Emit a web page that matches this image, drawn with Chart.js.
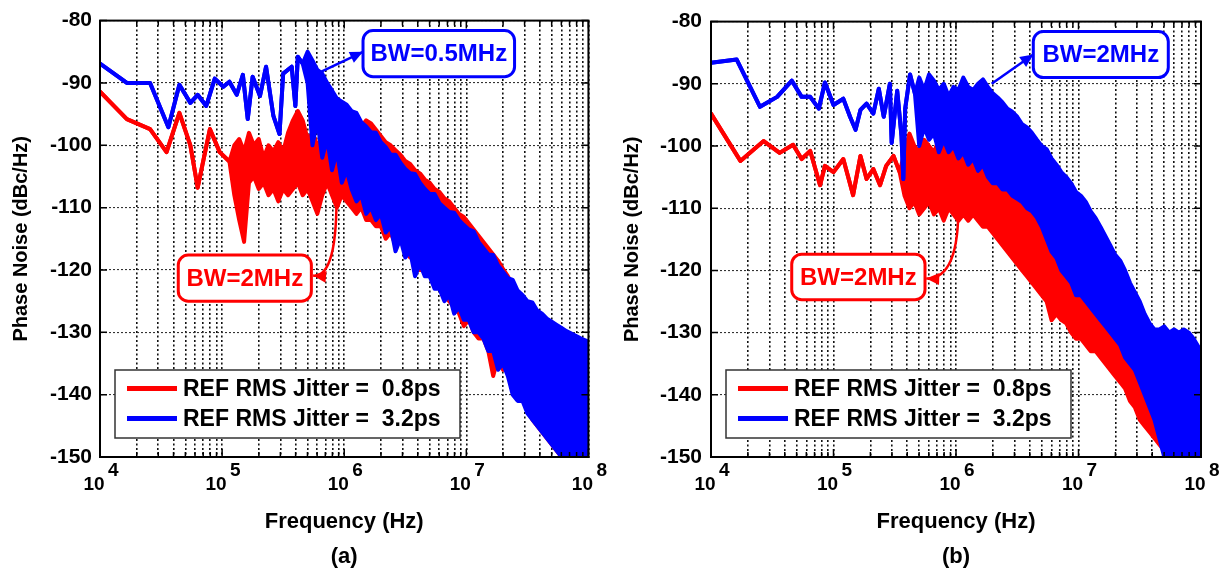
<!DOCTYPE html>
<html>
<head>
<meta charset="utf-8">
<title>Phase noise vs. frequency</title>
<script src="https://cdn.jsdelivr.net/npm/chart.js@4/dist/chart.umd.min.js"></script>
<style>
  html, body { margin: 0; padding: 0; background: #fff; }
  #wrap { position: relative; width: 1230px; height: 574px; }
  #wrap canvas { position: absolute; top: 0; }
</style>
</head>
<body>
<div id="wrap">
  <canvas id="chartA" width="615" height="574" style="left:0"></canvas>
  <canvas id="chartB" width="615" height="574" style="left:615px"></canvas>
</div>
<script>
// ---- values (frequency as log10(Hz), noise in dBc/Hz) ----
const decadeExps = [4, 5, 6, 7, 8];
const minorSteps = [2, 3, 4, 5, 6, 7, 8, 9];
const yTickValues = [-150, -140, -130, -120, -110, -100, -90, -80];
const legendLabels = ['REF RMS Jitter =  0.8ps', 'REF RMS Jitter =  3.2ps'];
const captions = ['(a)', '(b)'];

// panel (a) - blue, BW=0.5MHz
const aBlueLowF  = [4.00, 4.22, 4.41, 4.56, 4.65, 4.74, 4.80, 4.87, 4.94, 5.01, 5.06, 5.12, 5.17, 5.21, 5.25, 5.31, 5.36, 5.42, 5.47, 5.50, 5.57, 5.60, 5.62, 5.66];
const aBlueLowDb = [-86.9, -90.0, -90.0, -97.1, -90.3, -93.2, -91.9, -93.7, -89.3, -90.6, -89.8, -91.9, -88.7, -95.8, -89.0, -92.1, -87.4, -95.3, -98.2, -88.5, -87.4, -93.7, -85.8, -86.9];
const aBlueBandF  = [5.70, 5.74, 5.78, 5.82, 5.86, 5.90, 5.94, 5.98, 6.02, 6.06, 6.10, 6.14, 6.18, 6.22, 6.26, 6.30, 6.34, 6.38, 6.42, 6.46, 6.50, 6.54, 6.58, 6.62, 6.66, 6.70, 6.74, 6.78, 6.82, 6.86, 6.90, 6.94, 6.98, 7.02, 7.06, 7.10, 7.14, 7.18, 7.22, 7.26, 7.30, 7.34, 7.38, 7.42, 7.46, 7.50, 7.54, 7.58, 7.62, 7.66, 7.70, 7.74, 7.78, 7.82, 7.86, 7.90, 7.94, 8.00];
const aBlueBandHi = [-85.0, -86.4, -87.9, -88.5, -90.0, -91.2, -92.5, -93.0, -93.5, -94.5, -94.8, -96.3, -97.0, -97.9, -98.0, -99.5, -100.3, -101.5, -101.5, -102.8, -103.8, -104.5, -104.6, -106.0, -107.0, -107.8, -107.8, -109.3, -110.0, -110.7, -110.8, -112.0, -112.8, -113.5, -113.8, -115.5, -116.5, -117.5, -117.6, -119.3, -120.3, -121.3, -121.6, -123.3, -124.0, -125.0, -125.2, -126.5, -127.0, -127.8, -128.3, -128.8, -129.3, -129.8, -130.2, -130.6, -131.0, -131.5];
const aBlueBandLo = [-90, -100, -96, -102, -99, -104, -101, -106, -104, -107, -109, -108, -111, -110, -112, -111, -114, -113, -117, -115, -118, -117, -121, -119, -121, -121, -123, -123, -125, -124, -127, -126, -128, -128, -130, -130, -131, -133, -133, -136, -135, -137, -140, -141, -141, -143, -144, -145, -146, -147, -148, -149, -150, -150, -150, -150, -150, -150];

// panel (a) - red, BW=2MHz
const aRedLowF  = [4.00, 4.22, 4.41, 4.545, 4.65, 4.74, 4.80, 4.90, 4.98, 5.06];
const aRedLowDb = [-91.4, -95.8, -97.4, -101.1, -94.8, -100.0, -106.8, -97.4, -101.1, -102.6];
const aRedBandF  = [5.10, 5.14, 5.18, 5.22, 5.26, 5.30, 5.34, 5.38, 5.42, 5.46, 5.50, 5.54, 5.58, 5.62, 5.66, 5.70, 5.74, 5.78, 5.82, 5.86, 5.90, 5.94, 5.98, 6.02, 6.06, 6.10, 6.14, 6.18, 6.22, 6.26, 6.30, 6.34, 6.38, 6.42, 6.46, 6.50, 6.54, 6.58, 6.62, 6.66, 6.70, 6.74, 6.78, 6.82, 6.86, 6.90, 6.94, 6.98, 7.02, 7.06, 7.10, 7.14, 7.18, 7.22, 7.26, 7.30, 7.34, 7.38, 7.42, 7.46, 7.50, 7.54, 7.58, 7.62, 7.66, 7.70, 7.74, 7.78, 7.82, 7.86, 7.90, 7.94, 8.00];
const aRedBandHi = [-100, -99, -101, -98, -100, -99, -102, -100, -101, -99.5, -101, -98, -96, -94.5, -96, -99, -98, -100, -99, -101, -98, -97, -96, -96.5, -97, -96.5, -97, -96, -96.5, -97.5, -98.5, -99.5, -100, -100.8, -101.5, -102.5, -103, -104, -104.5, -105.5, -106, -107, -107.5, -108.5, -109, -110, -111, -111.5, -112.5, -113.5, -114.5, -115.5, -116.5, -117.5, -118.5, -119.8, -121, -122.5, -123.8, -125, -126, -127, -128, -129, -130, -131, -132, -133, -134, -135, -136, -137, -138];
const aRedBandLo = [-108, -112, -115.5, -106, -105, -107, -106, -108, -107, -109, -107, -108, -107, -106, -108, -107, -109, -111, -108, -106, -108, -110, -108, -109, -110, -111, -110, -112, -112, -113, -113, -115, -114, -116, -115, -117, -118, -118, -120, -120, -121, -122, -123, -124, -125, -126, -127, -129, -128, -130, -131, -131, -133, -137, -134, -136, -136, -138, -140, -141, -142, -144, -145, -146, -147, -148, -149, -150, -150, -150, -150, -150, -150];

// panel (b) - blue, BW=2MHz
const bBlueLowF  = [4.00, 4.21, 4.40, 4.54, 4.66, 4.74, 4.81, 4.88, 4.93, 5.00, 5.08, 5.135, 5.18, 5.22, 5.27, 5.325, 5.37, 5.41, 5.46, 5.475, 5.52, 5.555, 5.57, 5.585, 5.625, 5.665];
const bBlueLowDb = [-86.6, -86.1, -93.7, -92.1, -89.5, -92.1, -92.1, -94.0, -89.8, -93.4, -92.4, -95.3, -97.4, -94.2, -93.2, -94.8, -90.8, -95.3, -90.0, -99.5, -91.1, -98.4, -105.3, -94.0, -88.5, -91.6];
const bBlueBandF  = [5.70, 5.74, 5.78, 5.82, 5.86, 5.90, 5.94, 5.98, 6.02, 6.06, 6.10, 6.14, 6.18, 6.22, 6.26, 6.30, 6.34, 6.38, 6.42, 6.46, 6.50, 6.54, 6.58, 6.62, 6.66, 6.70, 6.74, 6.78, 6.82, 6.86, 6.90, 6.94, 6.98, 7.02, 7.06, 7.10, 7.14, 7.18, 7.22, 7.26, 7.30, 7.34, 7.38, 7.42, 7.46, 7.50, 7.54, 7.58, 7.62, 7.66, 7.70, 7.74, 7.78, 7.82, 7.86, 7.90, 7.94, 8.00];
const bBlueBandHi = [-89, -91, -88.5, -89.5, -91, -90, -92, -90.5, -91, -89, -90.5, -91, -90, -89.3, -90.5, -91.5, -92.2, -93, -94, -94.5, -95.3, -96.5, -97, -97.9, -99, -100, -100.5, -102, -103, -104.2, -105, -106, -107.4, -108, -109, -110.5, -111.6, -113, -114.5, -116, -117.5, -118.4, -120, -122, -123.5, -125, -127, -128.5, -129.5, -129.5, -129, -130, -129.5, -130, -129.5, -130, -131, -133];
const bBlueBandLo = [-100, -97, -99, -98, -101, -99, -101, -100, -102, -101, -103, -102, -104, -103, -105, -106, -106, -107, -107, -108, -108.5, -109, -110, -110.5, -111.5, -113, -115, -117, -118, -120, -121, -122, -124, -124, -125, -126, -127, -128, -129, -130, -131, -132, -134, -135, -136, -138, -140, -142, -144, -147, -150, -150, -150, -150, -150, -150, -150, -150];

// panel (b) - red, BW=2MHz
const bRedLowF  = [4.00, 4.24, 4.43, 4.56, 4.67, 4.74, 4.81, 4.89, 4.93, 5.00, 5.08, 5.16, 5.22, 5.27, 5.325, 5.38, 5.43, 5.49, 5.54];
const bRedLowDb = [-94.8, -102.4, -99.2, -101.1, -99.8, -102.1, -100.8, -106.3, -103.2, -104.2, -102.1, -107.9, -101.6, -105.3, -103.7, -106.3, -103.2, -101.6, -104.2];
const bRedBandF  = [5.58, 5.62, 5.66, 5.70, 5.74, 5.78, 5.82, 5.86, 5.90, 5.94, 5.98, 6.02, 6.06, 6.10, 6.14, 6.18, 6.22, 6.26, 6.30, 6.34, 6.38, 6.42, 6.46, 6.50, 6.54, 6.58, 6.62, 6.66, 6.70, 6.74, 6.78, 6.82, 6.86, 6.90, 6.94, 6.98, 7.02, 7.06, 7.10, 7.14, 7.18, 7.22, 7.26, 7.30, 7.34, 7.38, 7.42, 7.46, 7.50, 7.54, 7.58, 7.62, 7.66, 7.70, 7.74, 7.78, 7.82, 7.86, 7.90, 7.94, 8.00];
const bRedBandHi = [-101, -98, -100, -101, -99, -100, -101, -99, -100, -98.5, -99, -98, -97.9, -99, -99.5, -100, -100.5, -101, -102, -103, -104, -104.5, -105, -105.5, -106, -107, -107.5, -108.5, -110, -112, -114, -115, -117, -118, -119, -121, -121.5, -122, -123, -124, -125, -126, -127, -128, -129, -131, -132, -133, -135, -137, -139, -141, -143, -145, -146, -147, -148, -148, -149, -149, -150];
const bRedBandLo = [-108, -110, -109, -111, -110, -109, -111, -110, -112, -110, -111, -112, -111, -112, -111, -112, -113, -113, -114, -115, -116, -117, -118, -119, -120, -121, -122, -123, -124, -125, -128, -127, -128, -128.5, -130, -131, -131, -132, -133, -133, -134, -135, -136, -137, -138, -139, -141, -142, -144, -145, -146, -147, -148, -149, -150, -150, -150, -150, -150, -150, -150];

// ---- drawing ----
const RED = '#ff0000';
const BLUE = '#0000ff';
const FONT = "'Liberation Sans', Arial, sans-serif";
Chart.defaults.font.family = FONT;
Chart.defaults.font.weight = 'bold';
Chart.defaults.color = '#000';

const xGridValues = [];
decadeExps.forEach((e, i) => {
  xGridValues.push(Math.pow(10, e));
  if (i < decadeExps.length - 1) minorSteps.forEach(m => xGridValues.push(m * Math.pow(10, e)));
});
const isDecade = v => Math.abs(Math.log10(v) - Math.round(Math.log10(v))) < 1e-6;

// a noisy trace: single line at low offsets, then a band between upper and lower envelopes
function bandPair(lowF, lowDb, bandF, hi, lo) {
  const low = lowF.map((f, i) => ({x: Math.pow(10, f), y: lowDb[i]}));
  return [
    low.concat(bandF.map((f, i) => ({x: Math.pow(10, f), y: hi[i]}))),
    low.concat(bandF.map((f, i) => ({x: Math.pow(10, f), y: lo[i]})))
  ];
}

function trace(data, color, fill) {
  return {data, borderColor: color, backgroundColor: color, borderWidth: 4, pointRadius: 0,
          tension: 0, fill, borderJoinStyle: 'round', borderCapStyle: 'round'};
}

function roundRect(ctx, x, y, w, h, r) {
  ctx.beginPath();
  ctx.moveTo(x + r, y);
  ctx.arcTo(x + w, y, x + w, y + h, r);
  ctx.arcTo(x + w, y + h, x, y + h, r);
  ctx.arcTo(x, y + h, x, y, r);
  ctx.arcTo(x, y, x + w, y, r);
  ctx.closePath();
}

const decorPlugin = {
  id: 'panelDecor',
  afterDatasetsDraw(chart, args, opts) {
    const {ctx, chartArea: a, scales: {x, y}} = chart;
    const px = lf => x.getPixelForValue(Math.pow(10, lf));
    const py = db => y.getPixelForValue(db);
    ctx.save();

    // box frame with inward ticks
    ctx.strokeStyle = '#000';
    ctx.lineWidth = 2;
    ctx.strokeRect(a.left, a.top, a.right - a.left, a.bottom - a.top);
    ctx.lineWidth = 1.5;
    ctx.beginPath();
    x.ticks.forEach(t => {
      const p = x.getPixelForValue(t.value), len = isDecade(t.value) ? 8 : 5;
      ctx.moveTo(p, a.bottom); ctx.lineTo(p, a.bottom - len);
      ctx.moveTo(p, a.top); ctx.lineTo(p, a.top + len);
    });
    y.ticks.forEach(t => {
      const p = y.getPixelForValue(t.value);
      ctx.moveTo(a.left, p); ctx.lineTo(a.left + 7, p);
      ctx.moveTo(a.right, p); ctx.lineTo(a.right - 7, p);
    });
    ctx.stroke();

    // exponents of the 10^n tick labels
    ctx.fillStyle = '#000';
    ctx.font = 'bold 19px ' + FONT;
    ctx.textAlign = 'left';
    ctx.textBaseline = 'middle';
    decadeExps.forEach(e => ctx.fillText(String(e), px(e) + 8, a.bottom + 14));

    // legend inside the plot
    const L = opts.legend;
    const lx = a.left + L.left, ly = a.bottom - L.bottom - L.height;
    ctx.fillStyle = '#fff';
    ctx.fillRect(lx, ly, L.width, L.height);
    ctx.strokeStyle = '#333';
    ctx.lineWidth = 1.5;
    ctx.strokeRect(lx, ly, L.width, L.height);
    ctx.font = 'bold 23px ' + FONT;
    L.items.forEach((it, i) => {
      const cy = ly + 18.5 + i * 30;
      ctx.strokeStyle = it.color;
      ctx.lineWidth = 5;
      ctx.beginPath(); ctx.moveTo(lx + 12, cy); ctx.lineTo(lx + 62, cy); ctx.stroke();
      ctx.fillStyle = '#000';
      ctx.fillText(it.label, lx + 68, cy + 1);
    });

    // callout boxes with arrows
    opts.callouts.forEach(c => {
      ctx.strokeStyle = c.color;
      ctx.fillStyle = c.color;
      ctx.lineWidth = 2.5;
      const s = [px(c.from[0]), py(c.from[1])], e = [px(c.to[0]), py(c.to[1])];
      let d;
      ctx.beginPath();
      ctx.moveTo(s[0], s[1]);
      if (c.ctrl) {
        const k = [px(c.ctrl[0]), py(c.ctrl[1])];
        ctx.quadraticCurveTo(k[0], k[1], e[0], e[1]);
        d = [e[0] - k[0], e[1] - k[1]];
      } else {
        ctx.lineTo(e[0], e[1]);
        d = [e[0] - s[0], e[1] - s[1]];
      }
      ctx.stroke();
      const n = Math.hypot(d[0], d[1]), ux = d[0] / n, uy = d[1] / n;
      ctx.beginPath();
      ctx.moveTo(e[0], e[1]);
      ctx.lineTo(e[0] - 13 * ux - 6 * uy, e[1] - 13 * uy + 6 * ux);
      ctx.lineTo(e[0] - 13 * ux + 6 * uy, e[1] - 13 * uy - 6 * ux);
      ctx.closePath();
      ctx.fill();

      const bx = px(c.box[0]), by = py(c.box[1]), bw = px(c.box[2]) - bx, bh = py(c.box[3]) - by;
      roundRect(ctx, bx, by, bw, bh, 10);
      ctx.fillStyle = '#fff';
      ctx.fill();
      ctx.lineWidth = 3;
      ctx.stroke();
      ctx.fillStyle = c.color;
      ctx.font = 'bold 24px ' + FONT;
      ctx.textAlign = 'center';
      ctx.fillText(c.text, bx + bw / 2, by + bh / 2 + 1);
      ctx.textAlign = 'left';
    });
    ctx.restore();
  }
};

function makePanel(id, red, blue, caption, lay, callouts) {
  const [redHi, redLo] = red;
  const [blueHi, blueLo] = blue;
  new Chart(document.getElementById(id), {
    type: 'line',
    data: {
      // first dataset is drawn on top: blue over red
      datasets: [trace(blueHi, BLUE, false), trace(blueLo, BLUE, '-1'),
                 trace(redHi, RED, false), trace(redLo, RED, '-1')]
    },
    options: {
      responsive: false,
      animation: false,
      events: [],
      devicePixelRatio: 1,
      layout: {padding: {top: 13, right: lay.padRight, bottom: 0, left: 0}},
      plugins: {
        legend: {display: false},
        tooltip: {enabled: false},
        panelDecor: {
          legend: {left: 15, bottom: 19, width: 345, height: 68,
                   items: [{label: legendLabels[0], color: RED}, {label: legendLabels[1], color: BLUE}]},
          callouts
        }
      },
      scales: {
        x: {
          type: 'logarithmic', min: 1e4, max: 1e8,
          afterBuildTicks: s => { s.ticks = xGridValues.map(v => ({value: v})); },
          afterFit: s => { s.height = 117; },
          grid: {color: '#111', lineWidth: 1.6, drawTicks: false},
          border: {display: true, color: '#000', width: 2, dash: [2, 2.5]},
          ticks: {autoSkip: false, maxRotation: 0, minRotation: 0, padding: 16, labelOffset: -6,
                  font: {size: 19, weight: 'bold'}, color: '#000',
                  callback: v => isDecade(v) ? '10' : ''},
          title: {display: true, text: ['Frequency (Hz)', caption], color: '#000',
                  font: {size: 22, weight: 'bold', lineHeight: '35px'}, padding: {top: 0, bottom: 0}}
        },
        y: {
          min: -150, max: -80,
          afterBuildTicks: s => { s.ticks = yTickValues.map(v => ({value: v})); },
          afterFit: s => { s.width = lay.yWidth; },
          grid: {color: '#333', lineWidth: 1.1, drawTicks: false},
          border: {display: true, color: '#000', width: 2, dash: [2, 2]},
          ticks: {padding: lay.tickPad, font: {size: 21, weight: 'bold'}, color: '#000'},
          title: {display: true, text: 'Phase Noise (dBc/Hz)', color: '#000',
                  font: {size: 20, weight: 'bold'}, padding: {top: lay.titlePad}}
        }
      }
    },
    plugins: [decorPlugin]
  });
}

makePanel('chartA',
  bandPair(aRedLowF, aRedLowDb, aRedBandF, aRedBandHi, aRedBandLo),
  bandPair(aBlueLowF, aBlueLowDb, aBlueBandF, aBlueBandHi, aBlueBandLo),
  captions[0],
  {yWidth: 100, padRight: 26, tickPad: 8, titlePad: 9},
  [
    {text: 'BW=0.5MHz', color: BLUE, box: [6.154, -81.6, 7.395, -89.0], from: [5.813, -88.2], to: [6.154, -85.0]},
    {text: 'BW=2MHz', color: RED, box: [4.641, -117.6, 5.731, -125.0], from: [5.936, -106.8], ctrl: [5.95, -121.3], to: [5.745, -120.9]}
  ]);

makePanel('chartB',
  bandPair(bRedLowF, bRedLowDb, bRedBandF, bRedBandHi, bRedBandLo),
  bandPair(bBlueLowF, bBlueLowDb, bBlueBandF, bBlueBandHi, bBlueBandLo),
  captions[1],
  {yWidth: 96, padRight: 29, tickPad: 9, titlePad: 5},
  [
    {text: 'BW=2MHz', color: BLUE, box: [6.631, -81.6, 7.733, -89.0], from: [6.291, -90.0], to: [6.631, -85.3]},
    {text: 'BW=2MHz', color: RED, box: [4.659, -117.4, 5.747, -124.7], from: [6.019, -109.0], ctrl: [6.03, -121.5], to: [5.757, -121.3]}
  ]);
</script>
</body>
</html>
